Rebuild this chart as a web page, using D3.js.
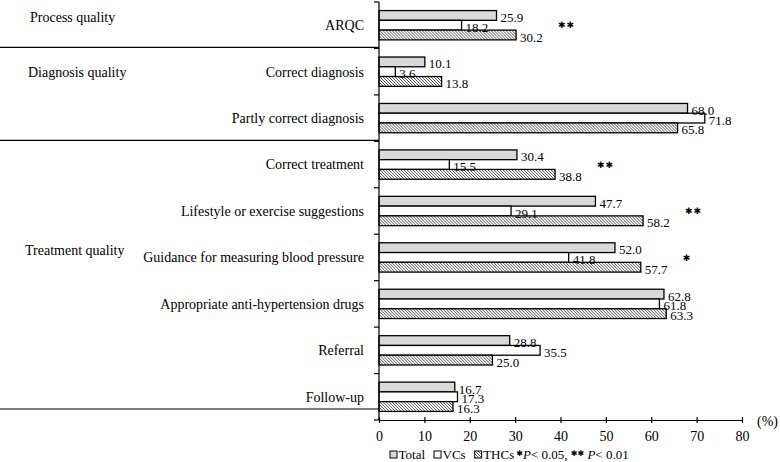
<!DOCTYPE html>
<meta charset="utf-8">
<html>

<head>
    <script src="https://d3js.org/d3.v7.min.js"></script>
    <style>
        body {
            margin: 0;
            background: white;
        }

        svg text {
            font-family: "Liberation Serif", "Times New Roman", serif;
            fill: black;
        }
    </style>
</head>

<body>
    <svg width="780" height="462"></svg>

    <script>
        // values
        const categories = [
            "ARQC",
            "Correct diagnosis",
            "Partly correct diagnosis",
            "Correct treatment",
            "Lifestyle or exercise suggestions",
            "Guidance for measuring blood pressure",
            "Appropriate anti-hypertension drugs",
            "Referral",
            "Follow-up"
        ];
        const total = [25.9, 10.1, 68.0, 30.4, 47.7, 52.0, 62.8, 28.8, 16.7];
        const vcs = [18.2, 3.6, 71.8, 15.5, 29.1, 41.8, 61.8, 35.5, 17.3];
        const thcs = [30.2, 13.8, 65.8, 38.8, 58.2, 57.7, 63.3, 25.0, 16.3];
        const significance = ["**", "", "", "**", "**", "*", "", "", ""];

        const seriesNames = ["Total", "VCs", "THCs"];
        const groupNames = ["Process quality", "Diagnosis quality", "Treatment quality"];
        const groupLabelAt = ["ARQC", "Correct diagnosis", "Guidance for measuring blood pressure"];
        const groupLastCategory = ["ARQC", "Partly correct diagnosis", "Follow-up"];
        const xTicks = [0, 10, 20, 30, 40, 50, 60, 70, 80];

        const svg = d3.select("svg");

        const defs = svg.append("defs");
        const hatch = defs.append("pattern")
            .attr("id", "hatch")
            .attr("patternUnits", "userSpaceOnUse")
            .attr("width", 3)
            .attr("height", 3);
        hatch.append("rect").attr("width", 3).attr("height", 3).attr("fill", "white");
        hatch.append("path")
            .attr("d", "M-1,-1 L4,4 M-1,2 L1,4 M2,-1 L4,1")
            .attr("stroke", "#444")
            .attr("stroke-width", 0.9);

        const fills = { "Total": "#d9d9d9", "VCs": "white", "THCs": "url(#hatch)" };

        const x = d3.scaleLinear().domain([0, 80]).range([379, 742]);
        const y = d3.scaleBand().domain(categories).range([2, 420]).paddingInner(0);
        const groupH = 29.3;
        const ySub = d3.scaleBand().domain(seriesNames).range([0, groupH]);

        const rows = categories.map((c, i) => ({
            category: c,
            values: [
                { key: "Total", value: total[i] },
                { key: "VCs", value: vcs[i] },
                { key: "THCs", value: thcs[i] }
            ],
            sig: significance[i]
        }));

        // bars
        const rowG = svg.append("g")
            .selectAll("g")
            .data(rows)
            .join("g")
            .attr("transform", d => `translate(0,${y(d.category) + (y.bandwidth() - groupH) / 2})`);

        rowG.selectAll("rect")
            .data(d => d.values)
            .join("rect")
            .attr("x", x(0))
            .attr("y", d => ySub(d.key))
            .attr("width", d => x(d.value) - x(0))
            .attr("height", ySub.bandwidth())
            .attr("fill", d => fills[d.key])
            .attr("stroke", "black")
            .attr("stroke-width", 1.3);

        rowG.selectAll("text.val")
            .data(d => d.values)
            .join("text")
            .attr("class", "val")
            .attr("x", d => x(d.value) + 4)
            .attr("y", d => ySub(d.key) + ySub.bandwidth() / 2 + 2)
            .attr("dy", "0.35em")
            .attr("font-size", 13)
            .text(d => d.value.toFixed(1));

        // significance marks
        svg.append("g")
            .selectAll("text")
            .data(rows.filter(d => d.sig))
            .join("text")
            .attr("x", d => x(d3.max(d.values, v => v.value)) + 42)
            .attr("y", d => y(d.category) + y.bandwidth() / 2)
            .attr("dy", "0.35em")
            .attr("font-size", 9)
            .attr("letter-spacing", 1)
            .style("font-family", "DejaVu Sans")
            .text(d => d.sig.replace(/\*/g, "\u2731"));

        // y axis with ticks on category boundaries
        const yAxis = svg.append("g").attr("stroke", "black").attr("stroke-width", 1.2);
        yAxis.append("line")
            .attr("x1", x(0)).attr("x2", x(0))
            .attr("y1", y.range()[0]).attr("y2", y.range()[1]);
        yAxis.selectAll("line.tick")
            .data(categories.map(c => y(c)).concat([y.range()[1]]))
            .join("line")
            .attr("class", "tick")
            .attr("x1", x(0) - 5).attr("x2", x(0))
            .attr("y1", d => d).attr("y2", d => d);

        svg.append("g")
            .selectAll("text")
            .data(categories)
            .join("text")
            .attr("x", 364)
            .attr("y", d => y(d) + y.bandwidth() / 2)
            .attr("dy", "0.35em")
            .attr("text-anchor", "end")
            .attr("font-size", 14)
            .text(d => d);

        // group labels and separators
        const groupDy = [-8, 0, -7];
        svg.append("g")
            .selectAll("text")
            .data(groupNames)
            .join("text")
            .attr("x", (d, i) => [30, 28, 25][i])
            .attr("y", (d, i) => y(groupLabelAt[i]) + y.bandwidth() / 2 + groupDy[i])
            .attr("dy", "0.35em")
            .attr("font-size", 14)
            .text(d => d);

        svg.append("g")
            .selectAll("line")
            .data(groupLastCategory)
            .join("line")
            .attr("x1", 0)
            .attr("x2", x(0))
            .attr("y1", (d, i) => i < 2 ? y(d) + y.bandwidth() - 1 : y(d) + y.bandwidth() - 11)
            .attr("y2", (d, i) => i < 2 ? y(d) + y.bandwidth() - 1 : y(d) + y.bandwidth() - 11)
            .attr("stroke", "black")
            .attr("stroke-width", 1.2);

        // x axis
        const xAxis = svg.append("g")
            .attr("transform", `translate(0,${y.range()[1]})`)
            .call(d3.axisBottom(x).tickValues(xTicks).tickSizeOuter(0).tickSizeInner(3).tickPadding(8));
        xAxis.select(".domain").attr("stroke-width", 1.2);
        xAxis.selectAll(".tick line").attr("y1", -3).attr("stroke-width", 1.2);
        xAxis.selectAll(".tick text")
            .attr("font-size", 14)
            .attr("font-family", null);

        svg.append("text")
            .attr("x", 757)
            .attr("y", y.range()[1] + 6)
            .attr("font-size", 14)
            .text("(%)");

        // legend
        const legend = svg.append("g").attr("transform", "translate(390,459)");
        let lx = 0;
        seriesNames.forEach(name => {
            legend.append("rect")
                .attr("x", lx).attr("y", -8)
                .attr("width", 7).attr("height", 7)
                .attr("fill", fills[name])
                .attr("stroke", "black")
                .attr("stroke-width", 1);
            const t = legend.append("text")
                .attr("x", lx + 8.5)
                .attr("font-size", 13)
                .text(name);
            lx += 8.5 + t.node().getComputedTextLength() + 9;
        });
        lx -= 7;
        const note = legend.append("text").attr("x", lx).attr("font-size", 13);
        note.append("tspan").style("font-family", "DejaVu Sans").attr("font-size", 8).attr("dy", -3).text("\u2731");
        note.append("tspan").attr("font-style", "italic").attr("dy", 3).text("P");
        note.append("tspan").text("< 0.05, ");
        note.append("tspan").style("font-family", "DejaVu Sans").attr("font-size", 8).attr("dy", -3).text("\u2731\u2731");
        note.append("tspan").attr("dy", 3).text(" ");
        note.append("tspan").attr("font-style", "italic").text("P");
        note.append("tspan").text("< 0.01");
    </script>
</body>

</html>
